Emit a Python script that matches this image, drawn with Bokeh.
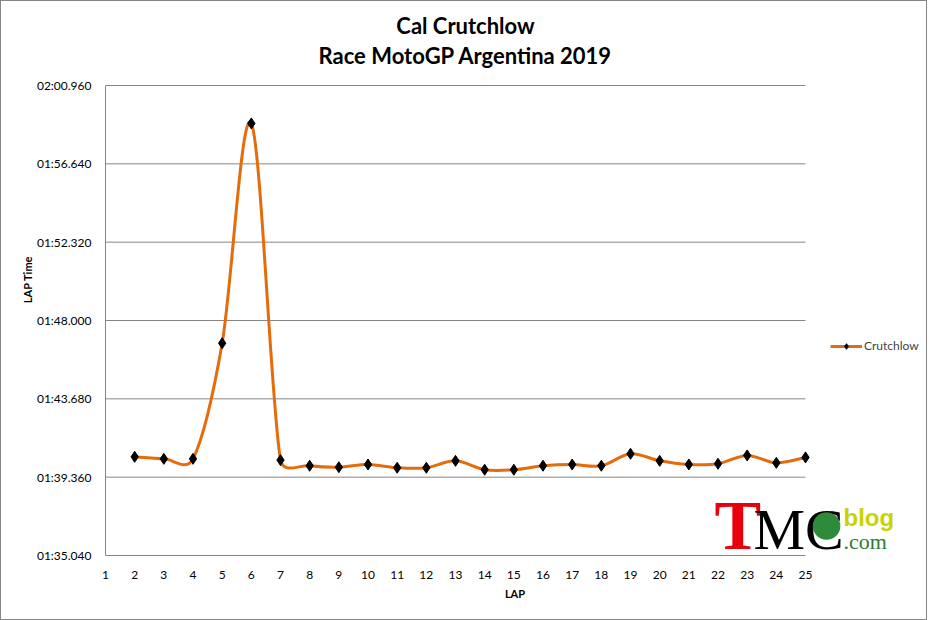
import numpy as np
from bokeh.embed import file_html
from bokeh.models import ColumnDataSource, FixedTicker, Label, Legend, LegendItem
from bokeh.plotting import figure
from bokeh.resources import INLINE

# lap times in seconds
laps = [2, 3, 4, 5, 6, 7, 8, 9, 10, 11, 12, 13, 14, 15, 16, 17, 18, 19, 20, 21, 22, 23, 24, 25]
times = [100.48, 100.37, 100.37, 106.75, 118.87, 100.30, 99.99, 99.91, 100.06, 99.88, 99.88, 100.26,
         99.77, 99.77, 99.99, 100.06, 99.99, 100.65, 100.26, 100.06, 100.10, 100.56, 100.15, 100.45]
x_ticks = list(range(1, 26))
y_ticks = [95.04, 99.36, 103.68, 108.00, 112.32, 116.64, 120.96]
y_labels = ["01:35.040", "01:39.360", "01:43.680", "01:48.000", "01:52.320", "01:56.640", "02:00.960"]

FONT = "Lato"
ORANGE = "#E46C0A"
GREY = "#868686"

# plot area of the excel chart is 700 x 470 px; the bokeh frame is bigger so the
# title, legend and logo can live inside it
AREA_W, AREA_H = 700, 470
FRAME_W, FRAME_H = 819, 552
px_x = AREA_W / (x_ticks[-1] - x_ticks[0])
px_y = AREA_H / (y_ticks[-1] - y_ticks[0])
x_end = x_ticks[0] + FRAME_W / px_x
y_end = y_ticks[0] + FRAME_H / px_y

# excel style smoothing: bezier segments, control arms capped at half the segment
# length (measured in pixels)
P = np.column_stack([np.array(laps, float) * px_x, np.array(times, float) * px_y])
n = len(P)
seg = {k: [] for k in ("x0", "y0", "x1", "y1", "cx0", "cy0", "cx1", "cy1")}
for i in range(n - 1):
    p0, p1, p2 = P[max(i - 1, 0)], P[i], P[i + 1]
    p3 = P[min(i + 2, n - 1)]
    d02 = np.hypot(*(p2 - p0))
    d12 = np.hypot(*(p2 - p1))
    d13 = np.hypot(*(p3 - p1))
    f0 = 1 / 6 if d02 / 6 < d12 / 2 else d12 / (2 * d02)
    f1 = 1 / 6 if d13 / 6 < d12 / 2 else d12 / (2 * d13)
    c1 = p1 + (p2 - p0) * f0
    c2 = p2 - (p3 - p1) * f1
    for k, pt in (("0", p1), ("1", p2)):
        seg["x" + k].append(pt[0] / px_x)
        seg["y" + k].append(pt[1] / px_y)
    seg["cx0"].append(c1[0] / px_x)
    seg["cy0"].append(c1[1] / px_y)
    seg["cx1"].append(c2[0] / px_x)
    seg["cy1"].append(c2[1] / px_y)
curve_src = ColumnDataSource(seg)
pts_src = ColumnDataSource(dict(lap=laps, t=times))
grid_src = ColumnDataSource(dict(y=y_ticks[1:]))

p = figure(frame_width=FRAME_W, frame_height=FRAME_H, x_range=(x_ticks[0], x_end),
           y_range=(y_ticks[0], y_end), output_backend="svg", toolbar_location=None,
           min_border_left=104, min_border_right=2, min_border_top=2, min_border_bottom=64)
p.styles = {"border": "1px solid " + GREY}
p.outline_line_color = None
p.xgrid.grid_line_color = None
p.ygrid.grid_line_color = None

p.yaxis.ticker = FixedTicker(ticks=y_ticks)
p.yaxis.major_label_overrides = dict(zip(y_ticks, y_labels))
p.yaxis.bounds = (y_ticks[0], y_ticks[-1])
p.xaxis.ticker = FixedTicker(ticks=x_ticks)
p.xaxis.bounds = (x_ticks[0], x_ticks[-1])
for ax in (p.xaxis, p.yaxis):
    ax.axis_line_color = GREY
    ax.major_tick_line_color = None
    ax.minor_tick_line_color = None
    ax.major_label_text_font = FONT
    ax.major_label_text_font_size = "12px"
    ax.major_label_text_color = "black"
    ax.axis_label_text_font = FONT
    ax.axis_label_text_font_size = "11px"
    ax.axis_label_text_font_style = "bold"
    ax.axis_label_text_color = "black"
p.yaxis.major_label_standoff = 8
p.xaxis.major_label_standoff = 9
p.yaxis.axis_label = "LAP Time"
p.xaxis.axis_label = "LAP"
p.yaxis.axis_label_standoff = 0
p.xaxis.axis_label_standoff = 5

# horizontal gridlines only across the plot area
p.segment(x0=x_ticks[0], x1=x_ticks[-1], y0="y", y1="y", source=grid_src,
          line_color=GREY, line_width=1)

p.bezier(x0="x0", y0="y0", x1="x1", y1="y1", cx0="cx0", cy0="cy0", cx1="cx1", cy1="cy1",
         source=curve_src, line_color=ORANGE, line_width=3)
pts = p.scatter(x="lap", y="t", source=pts_src, marker="diamond", size=11,
                fill_color="black", line_color="black")
# one-point line: draws nothing in the plot, only gives the legend its orange stroke
key_line = p.line(x=laps[:1], y=times[:1], line_color=ORANGE, line_width=3)

legend = Legend(items=[LegendItem(label="Crutchlow", renderers=[key_line, pts])],
                location=(725, 202), padding=0, margin=0, glyph_width=32, glyph_height=14,
                label_standoff=2, background_fill_alpha=0, border_line_color=None,
                label_text_font=FONT, label_text_font_size="12px")
p.add_layout(legend, "center")

# two-line title
for txt, yy in (("Cal Crutchlow", 530), ("Race MotoGP Argentina 2019", 500)):
    p.add_layout(Label(x=360, y=yy, x_units="screen", y_units="screen", text=txt,
                       text_align="center", text_baseline="middle", text_font=FONT,
                       text_font_size="22px", text_font_style="bold", text_color="black"))

# TMC blog logo (bottom-anchored labels, descender space hangs below the plot area)
p.add_layout(Label(x=609, y=-8, x_units="screen", y_units="screen", text="T", text_color="#E8000B",
                   text_font="Liberation Serif", text_font_size="70px", text_font_style="bold"))
p.add_layout(Label(x=648, y=-6, x_units="screen", y_units="screen", text="MC", text_color="black",
                   text_font="Liberation Serif", text_font_size="58px"))
p.add_layout(Label(x=721, y=34, x_units="screen", y_units="screen", text="●", text_color="#2E8B3A",
                   text_font_size="64px", text_align="center", text_baseline="middle"))
p.add_layout(Label(x=738, y=25, x_units="screen", y_units="screen", text="blog", text_color="#C8D400",
                   text_font="Liberation Sans", text_font_size="24px", text_font_style="bold"))
p.add_layout(Label(x=738, y=2, x_units="screen", y_units="screen", text=".com", text_color="#2E7D32",
                   text_font="Liberation Serif", text_font_size="22px"))

open("out.html", "w").write(file_html(p, INLINE))
